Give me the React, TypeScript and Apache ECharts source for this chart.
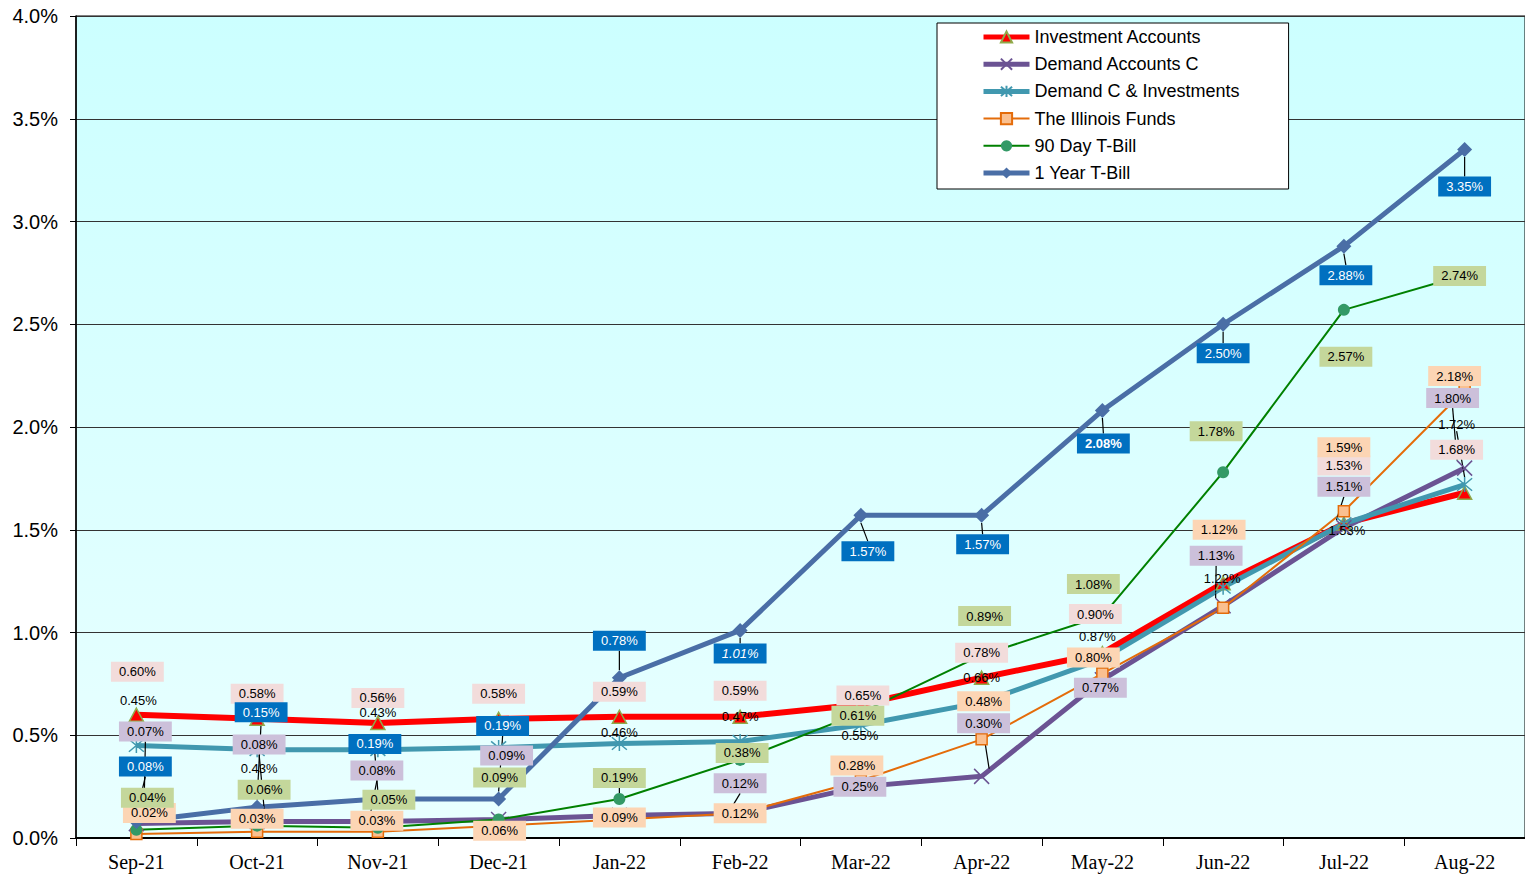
import React, { useEffect, useRef } from "react";
import * as echarts from "echarts";

const categories = ["Sep-21", "Oct-21", "Nov-21", "Dec-21", "Jan-22", "Feb-22", "Mar-22", "Apr-22", "May-22", "Jun-22", "Jul-22", "Aug-22"];

const investmentAccounts = [0.60, 0.58, 0.56, 0.58, 0.59, 0.59, 0.65, 0.78, 0.90, 1.24, 1.53, 1.68];
const demandAccountsC = [0.07, 0.08, 0.08, 0.09, 0.11, 0.12, 0.25, 0.30, 0.77, 1.13, 1.51, 1.80];
const demandCInvestments = [0.45, 0.43, 0.43, 0.44, 0.46, 0.47, 0.55, 0.66, 0.87, 1.22, 1.53, 1.72];
const illinoisFunds = [0.02, 0.03, 0.03, 0.06, 0.09, 0.12, 0.28, 0.48, 0.80, 1.12, 1.59, 2.18];
const tBill90 = [0.04, 0.06, 0.05, 0.09, 0.19, 0.38, 0.61, 0.89, 1.08, 1.78, 2.57, 2.74];
const tBill1Year = [0.08, 0.15, 0.19, 0.19, 0.78, 1.01, 1.57, 1.57, 2.08, 2.50, 2.88, 3.35];

const yMin = 0;
const yMax = 4;
const yStep = 0.5;

// label placement (pixel offsets from the point), null = label hidden behind others
const offRed = [[1, -43], [0, -25], [0, -25], [0, -25], [0, -25], [0, -26], [2, -9], [0, -25], [-7, -39], null, [0, -58], [-8, -43]];
const offPurple = [[9, -92], [2, -77], [-1, -51], [8, -64], null, [0, -30], [-1, 0], [2, -53], [-2, 8], [-7, -50], [0, -41], [-12, -70]];
const offTeal = [[2, -45], [2, 19], [0, -37], null, [0, -11], [0, -25], [-1, 11], [0, -25], [-5, -23], [-1, -9], [3, 7], [-8, -60]];
const offOrange = [[13, -21], [0, -13], [-1, -11], [1, 5], [0, -2], [0, 0], [-4, -15], [2, -38], [-9, -16], [-4, -78], [0, -64], [-10, -14]];
const offGreen = [[11, -32], [7, -36], [11, -28], [1, -42], [0, -21], [2, -7], [-3, 3], [3, -39], [-9, -32], [-7, -41], [2, 47], [-5, 1]];
const offBlue = [[9, -55], [4, -95], [-3, -55], [4, -73], [0, -37], [0, 23], [7, 36], [1, 29], [1, 33], [0, 29], [2, 29], [0, 37]];

const leadRed: number[] = [];
const leadPurple = [0, 1, 2, 5, 7, 9, 10, 11];
const leadTeal = [11];
const leadOrange: number[] = [];
const leadGreen = [0, 4];
const leadBlue = [0, 1, 2, 3, 4, 5, 6, 7, 8, 9, 10, 11];

const FONT = 'Arial, "Liberation Sans", sans-serif';

export default function App() {
  const ref = useRef<HTMLDivElement>(null);
  useEffect(() => {
    if (!ref.current) return;
    const chart = echarts.init(ref.current, null, { renderer: "svg" });

    const offsets = [offRed, offPurple, offTeal, offOrange, offGreen, offBlue];

    const buildData = (vals: number[], off: any[], lead: number[], extra?: (i: number) => any) =>
      vals.map((v, i) => ({
        value: v,
        label: { show: off[i] != null, ...(extra ? extra(i) : {}) },
        labelLine: { show: lead.indexOf(i) >= 0 && off[i] != null },
      }));

    const labelBase = (bg: string | undefined, color: string) => ({
      show: true,
      position: "inside",
      formatter: (p: any) => Number(p.value).toFixed(2) + "%",
      fontFamily: FONT,
      fontSize: 13,
      color,
      backgroundColor: bg,
      padding: bg ? [4, 8, 3, 8] : [2, 2],
    });

    const labelLine = { show: false, lineStyle: { color: "#000", width: 1.2 }, length2: 0, smooth: false };

    const common = {
      type: "line",
      smooth: false,
      emphasis: { disabled: true },
      labelLine,
      labelLayout: (params: any) => {
        const o = offsets[params.seriesIndex]?.[params.dataIndex];
        if (!o) return {};
        return { dx: o[0], dy: o[1] };
      },
    };

    const xPath = "path://M0 0L10 10M10 0L0 10";
    const starPath = "path://M0 0L10 10M10 0L0 10M5 -1L5 11";

    const option: any = {
      animation: false,
      backgroundColor: "#ffffff",
      legend: {
        orient: "vertical",
        left: 937,
        top: 23,
        backgroundColor: "#ffffff",
        borderColor: "#000",
        borderWidth: 1,
        padding: [5, 49, 7, 44],
        itemWidth: 46,
        itemHeight: 14,
        itemGap: 9.2,
        textStyle: { fontFamily: FONT, fontSize: 18, color: "#000", lineHeight: 18 },
        data: [
          { name: "Investment Accounts", lineStyle: { width: 5 } },
          { name: "Demand Accounts C", lineStyle: { width: 5 } },
          { name: "Demand C & Investments", lineStyle: { width: 5 } },
          { name: "The Illinois Funds", lineStyle: { width: 2 } },
          { name: "90 Day T-Bill", lineStyle: { width: 2 } },
          { name: "1 Year T-Bill", lineStyle: { width: 5 } },
        ],
        selectedMode: false,
      },
      grid: {
        left: 76,
        right: 0,
        top: 16,
        bottom: 40,
        show: true,
        borderColor: "#000",
        borderWidth: 1,
        backgroundColor: {
          type: "linear", x: 0, y: 0, x2: 0, y2: 1,
          colorStops: [{ offset: 0, color: "#ccffff" }, { offset: 1, color: "#e9ffff" }],
        },
      },
      xAxis: {
        type: "category",
        data: categories,
        boundaryGap: true,
        axisLine: { lineStyle: { color: "#000", width: 2 } },
        axisTick: { show: true, length: 8, lineStyle: { color: "#000", width: 1 } },
        axisLabel: { fontFamily: '"Times New Roman", "Liberation Serif", serif', fontSize: 20, color: "#000", margin: 14 },
        splitLine: { show: false },
      },
      yAxis: {
        type: "value",
        min: yMin,
        max: yMax,
        interval: yStep,
        axisLine: { show: true, lineStyle: { color: "#000", width: 1.5 } },
        axisTick: { show: true, length: 6, lineStyle: { color: "#000" } },
        axisLabel: { fontFamily: FONT, fontSize: 20, color: "#000", margin: 18, formatter: (v: number) => v.toFixed(1) + "%" },
        splitLine: { show: true, lineStyle: { color: "#333", width: 1 } },
      },
      series: [
        {
          ...common,
          name: "Investment Accounts",
          data: buildData(investmentAccounts, offRed, leadRed),
          lineStyle: { color: "#ff0000", width: 6 },
          symbol: "triangle",
          symbolSize: [14, 13],
          itemStyle: { color: "#ff0000", borderColor: "#8faa4a", borderWidth: 1.5 },
          label: labelBase("#f2dcdb", "#000"),
          z: 2,
        },
        {
          ...common,
          name: "Demand Accounts C",
          data: buildData(demandAccountsC, offPurple, leadPurple),
          lineStyle: { color: "#6b5393", width: 5 },
          symbol: xPath,
          symbolSize: 15,
          itemStyle: { color: "rgba(0,0,0,0)", borderColor: "#6b5393", borderWidth: 1.5 },
          label: labelBase("#ccc0da", "#000"),
          z: 2,
        },
        {
          ...common,
          name: "Demand C & Investments",
          data: buildData(demandCInvestments, offTeal, leadTeal),
          lineStyle: { color: "#4198af", width: 5 },
          symbol: starPath,
          symbolSize: 15,
          itemStyle: { color: "rgba(0,0,0,0)", borderColor: "#4198af", borderWidth: 1.5 },
          label: labelBase(undefined, "#000"),
          z: 2,
        },
        {
          ...common,
          name: "The Illinois Funds",
          data: buildData(illinoisFunds, offOrange, leadOrange),
          lineStyle: { color: "#e46c0a", width: 2 },
          symbol: "rect",
          symbolSize: 11,
          itemStyle: { color: "#fac090", borderColor: "#e46c0a", borderWidth: 1.5 },
          label: labelBase("#fcd5b4", "#000"),
          z: 2,
        },
        {
          ...common,
          name: "90 Day T-Bill",
          data: buildData(tBill90, offGreen, leadGreen),
          lineStyle: { color: "#008000", width: 2 },
          symbol: "circle",
          symbolSize: 12,
          itemStyle: { color: "#339966" },
          label: labelBase("#c4d79b", "#000"),
          z: 2,
        },
        {
          ...common,
          name: "1 Year T-Bill",
          data: buildData(tBill1Year, offBlue, leadBlue, (i) =>
            i === 5 ? { fontStyle: "italic" } : i === 8 ? { fontWeight: "bold" } : {}
          ),
          lineStyle: { color: "#4a6ea6", width: 5 },
          symbol: "diamond",
          symbolSize: 15,
          itemStyle: { color: "#4a6ea6" },
          label: labelBase("#0070c0", "#ffffff"),
          z: 2,
        },
      ],
    };

    chart.setOption(option);
    return () => chart.dispose();
  }, []);

  return (
    <div
      ref={ref}
      style={{ position: "fixed", left: 0, top: 0, width: 1525, height: 878, background: "#fff" }}
    />
  );
}
